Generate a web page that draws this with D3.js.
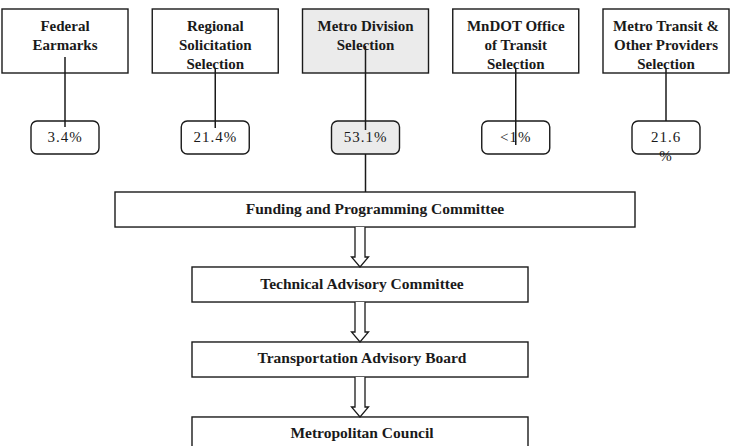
<!DOCTYPE html>
<html><head><meta charset="utf-8">
<script src="https://cdn.jsdelivr.net/npm/d3@7"></script>
<style>html,body{margin:0;padding:0;background:#fff;} svg{display:block;}</style>
</head><body>
<script>
// ---- data ----
const sourceLines = [
  ["Federal", "Earmarks"],
  ["Regional", "Solicitation", "Selection"],
  ["Metro Division", "Selection"],
  ["MnDOT Office", "of Transit", "Selection"],
  ["Metro Transit &", "Other Providers", "Selection"]
];
const shareValues = [3.4, 21.4, 53.1, 1, 21.6];
const shareLabels = [["3.4%"], ["21.4%"], ["53.1%"], ["<1%"], ["21.6", "%"]];
const committees = [
  "Funding and Programming Committee",
  "Technical Advisory Committee",
  "Transportation Advisory Board",
  "Metropolitan Council"
];
const highlightIndex = 2;   // Metro Division (shaded in the scan)

// ---- layout ----
const W = 733, H = 446;
const font = "'Liberation Serif','Times New Roman',Times,serif";
const ink = "#1a1a1a";
const svg = d3.select("body").append("svg").attr("width", W).attr("height", H)
  .style("background", "#fff");

const idx = d3.range(sourceLines.length);
const x = d3.scalePoint().domain(idx).range([65, 666]);
const topBox = {y: 9, h: 64, w: 126};
const pctBox = {y: 121, h: 33, w: 68};
const y = d3.scaleBand().domain(committees).range([192, 452]).paddingInner(0.533);
const chainX = 360;
const lineSpan = [[57, 127], [68, 128], [46, 130], [68, 145], [68, 121]];

const shade = "#ebebeb";

// top source boxes
const g1 = svg.append("g");
g1.selectAll("rect").data(idx).join("rect")
  .attr("x", d => x(d) - topBox.w / 2).attr("y", topBox.y)
  .attr("width", topBox.w).attr("height", topBox.h)
  .attr("fill", d => d === highlightIndex ? shade : "#fff")
  .attr("stroke", ink).attr("stroke-width", 1.4);
g1.selectAll("text").data(idx).join("text")
  .attr("text-anchor", "middle")
  .attr("font-family", font).attr("font-weight", "bold").attr("font-size", 15)
  .attr("fill", ink)
  .each(function(d) {
    d3.select(this).selectAll("tspan").data(sourceLines[d]).join("tspan")
      .attr("x", x(d)).attr("y", (t, i) => 31 + i * 19).text(t => t);
  });

// percent boxes
const g2 = svg.append("g");
g2.selectAll("rect").data(idx).join("rect")
  .attr("x", d => x(d) - pctBox.w / 2).attr("y", pctBox.y)
  .attr("width", pctBox.w).attr("height", pctBox.h).attr("rx", 6)
  .attr("fill", d => d === highlightIndex ? shade : "#fff")
  .attr("stroke", ink).attr("stroke-width", 1.4);
g2.selectAll("text").data(idx).join("text")
  .attr("text-anchor", "middle")
  .attr("font-family", font).attr("font-size", 15).attr("letter-spacing", 1)
  .attr("fill", ink)
  .each(function(d) {
    d3.select(this).selectAll("tspan").data(shareLabels[d]).join("tspan")
      .attr("x", x(d)).attr("y", (t, i) => 142 + i * 19).text(t => t);
  });

// committee boxes
const g3 = svg.append("g");
g3.selectAll("rect").data(committees).join("rect")
  .attr("x", (d, i) => i === 0 ? 115 : chainX - 168)
  .attr("y", d => y(d))
  .attr("width", (d, i) => i === 0 ? 520 : 336)
  .attr("height", y.bandwidth())
  .attr("fill", "#fff").attr("stroke", ink).attr("stroke-width", 1.4);
g3.selectAll("text").data(committees).join("text")
  .attr("x", (d, i) => i === 0 ? 375 : chainX + 2)
  .attr("y", d => y(d) + y.bandwidth() / 2 + 4)
  .attr("text-anchor", "middle")
  .attr("font-family", font).attr("font-weight", "bold").attr("font-size", 15.5)
  .attr("fill", ink).text(d => d);

// hollow arrows between committees
const arrows = committees.slice(0, -1).map((d, i) => ({y0: y(d) + y.bandwidth(), y1: y(committees[i + 1])}));
svg.append("g").selectAll("path").data(arrows).join("path")
  .attr("d", a => {
    const sw = 5, hw = 8.5, hl = 10;
    const yh = a.y1 - hl;
    return `M${chainX - sw},${a.y0}V${yh}H${chainX - hw}L${chainX},${a.y1}L${chainX + hw},${yh}H${chainX + sw}V${a.y0}`;
  })
  .attr("fill", "#fff").attr("stroke", ink).attr("stroke-width", 1.3);

// connector lines (drawn on top, as in the scan)
const g4 = svg.append("g").attr("stroke", ink).attr("stroke-width", 1.5);
g4.selectAll("line.c").data(idx).join("line").attr("class", "c")
  .attr("x1", d => x(d)).attr("x2", d => x(d))
  .attr("y1", d => lineSpan[d][0]).attr("y2", d => lineSpan[d][1]);
g4.append("line")
  .attr("x1", x(highlightIndex)).attr("x2", x(highlightIndex))
  .attr("y1", pctBox.y + pctBox.h).attr("y2", y(committees[0]));
</script>
</body></html>
